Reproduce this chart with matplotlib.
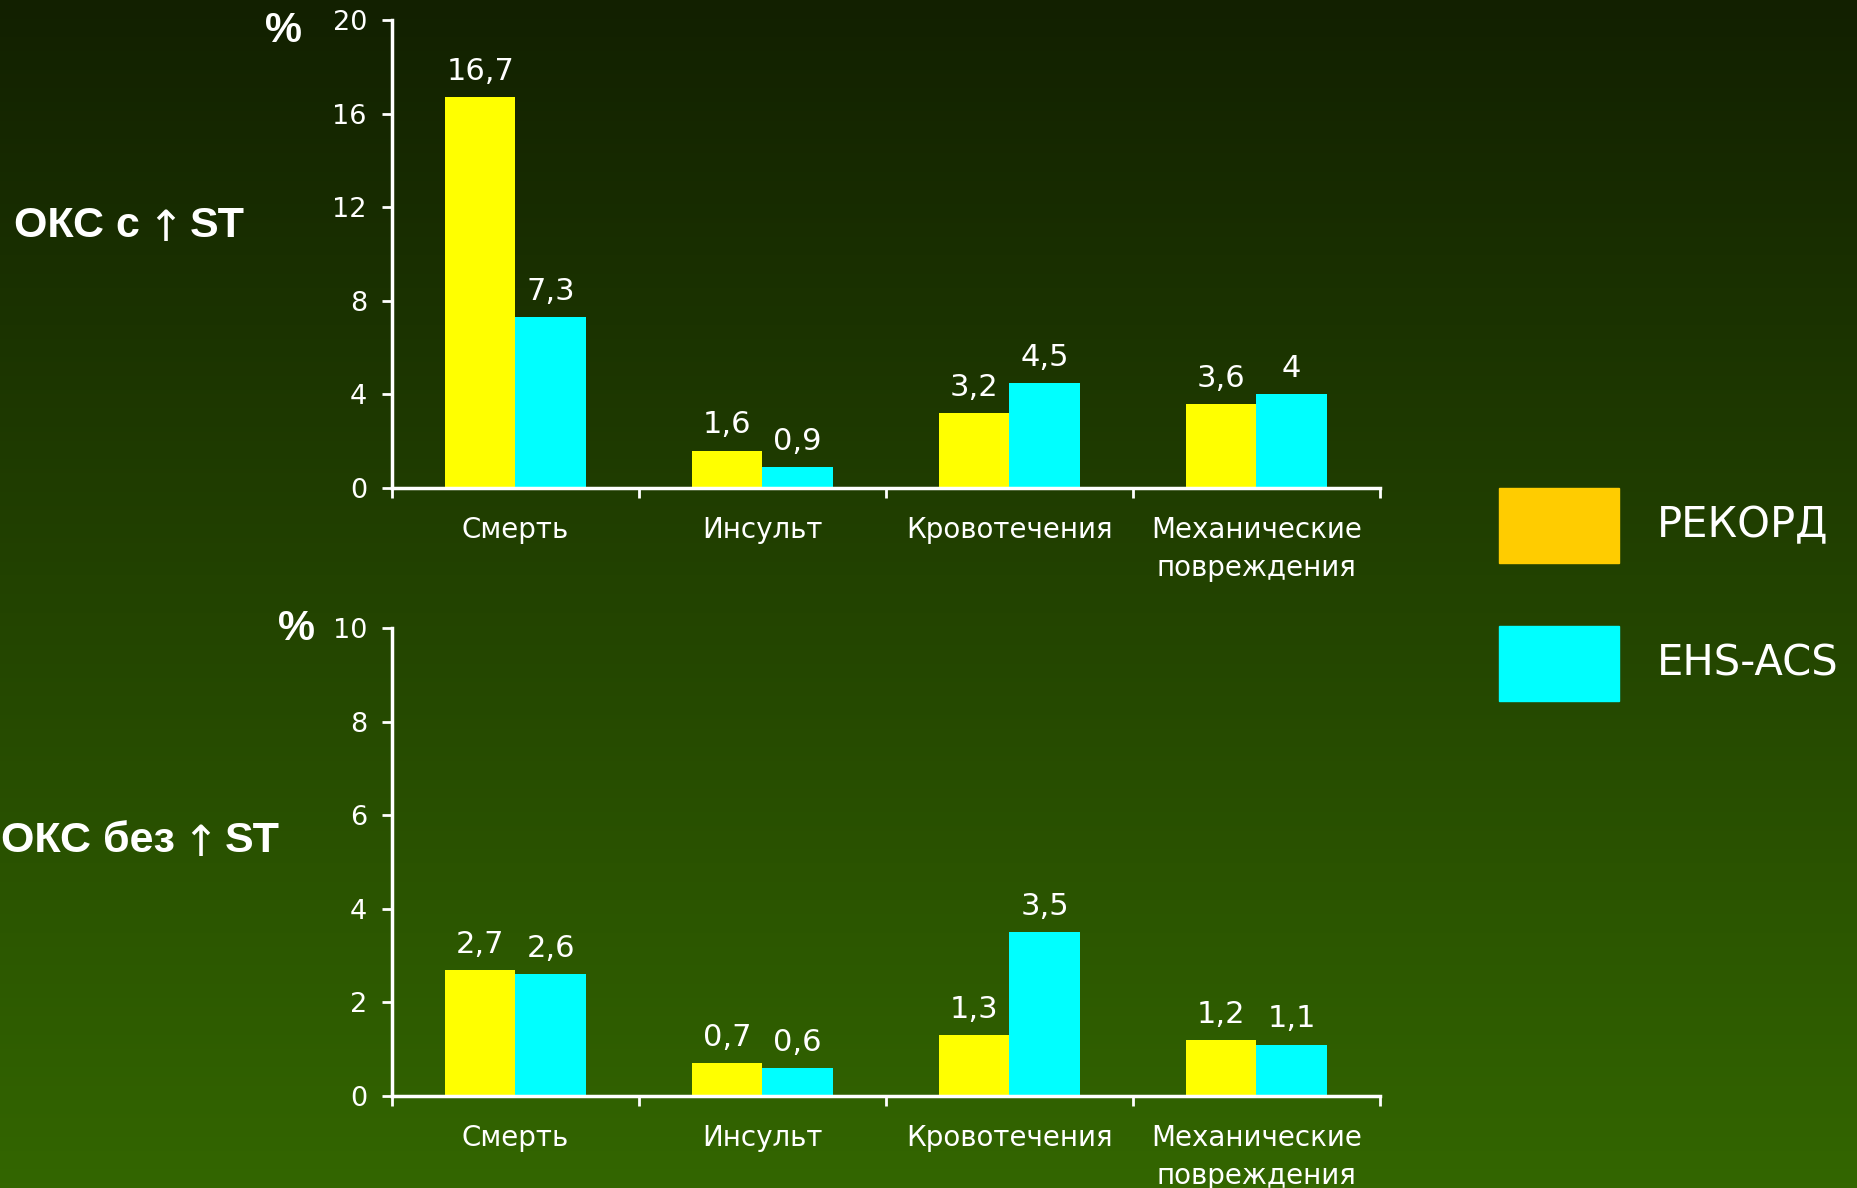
import numpy as np
import matplotlib
matplotlib.use("Agg")
import matplotlib.pyplot as plt
from matplotlib.patches import Rectangle

plt.rcParams['font.family'] = ['DejaVu Sans']

categories = ["Смерть", "Инсульт", "Кровотечения", "Механические\nповреждения"]
series_names = ["РЕКОРД", "EHS-ACS"]

# ОКС с подъёмом ST
stemi_rekord = [16.7, 1.6, 3.2, 3.6]
stemi_ehs = [7.3, 0.9, 4.5, 4.0]

# ОКС без подъёма ST
nstemi_rekord = [2.7, 0.7, 1.3, 1.2]
nstemi_ehs = [2.6, 0.6, 3.5, 1.1]

bar_yellow = "#FFFF00"
bar_cyan = "#00FFFF"
legend_colors = ["#FFCC00", "#00FFFF"]

W, H = 1858, 1188
fig = plt.figure(figsize=(W / 100, H / 100), dpi=100)

# фон: вертикальный градиент от тёмно-зелёного к зелёному
bg = fig.add_axes([0, 0, 1, 1], zorder=-10)
top_c = np.array([0x12, 0x20, 0x00]) / 255
bot_c = np.array([0x33, 0x66, 0x00]) / 255
t = np.linspace(0, 1, 256)[:, None]
grad = top_c[None, None, :] * (1 - t[..., None]) + bot_c[None, None, :] * t[..., None]
grad = np.repeat(grad, 2, axis=1)
bg.imshow(grad, aspect='auto', extent=[0, 1, 0, 1])
bg.set_xlim(0, 1)
bg.set_ylim(0, 1)
bg.set_axis_off()


def fmt(v):
    return ("%g" % v).replace(".", ",")


def draw_panel(rect, a, b, ymax, step):
    ax = fig.add_axes(rect)
    ax.set_facecolor("none")
    x = np.arange(len(categories))
    w = 0.285
    b1 = ax.bar(x - w / 2, a, w, color=bar_yellow, zorder=2)
    b2 = ax.bar(x + w / 2, b, w, color=bar_cyan, zorder=2)
    for bars, vals in ((b1, a), (b2, b)):
        for r, v in zip(bars, vals):
            ax.annotate(fmt(v), (r.get_x() + r.get_width() / 2, r.get_height()),
                        xytext=(0, 8), textcoords="offset points",
                        ha="center", va="bottom", color="white", fontsize=22)
    ax.set_xlim(-0.5, len(categories) - 0.5)
    ax.set_ylim(0, ymax)
    ax.set_yticks(np.arange(0, ymax + 0.1, step))
    ax.set_xticks(x)
    ax.set_xticklabels(categories, color="white", fontsize=20, linespacing=1.45)
    ax.set_xticks(np.arange(-0.5, len(categories)), minor=True)
    ax.tick_params(axis="x", which="major", length=0, pad=20)
    ax.tick_params(axis="x", which="minor", length=7, width=2, color="white", direction="out")
    ax.tick_params(axis="y", length=7, width=2, color="white", labelcolor="white",
                   labelsize=19.5, pad=11)
    for s in ("top", "right"):
        ax.spines[s].set_visible(False)
    for s in ("left", "bottom"):
        ax.spines[s].set_color("white")
        ax.spines[s].set_linewidth(2.5)
    return ax


ax1 = draw_panel([392 / W, 1 - 488 / H, 988 / W, 468 / H], stemi_rekord, stemi_ehs, 20, 4)
ax2 = draw_panel([392 / W, 1 - 1096 / H, 988 / W, 468 / H], nstemi_rekord, nstemi_ehs, 10, 2)


# подписи строк: жирный текст, стрелка обычным начертанием
def row_label(x, y, head, tail):
    lab = ['Liberation Sans', 'DejaVu Sans']
    t1 = bg.text(x / W, 1 - y / H, head, color="white", fontsize=31, family=lab,
                 fontweight="bold", va="center", ha="left")
    t2 = bg.annotate("↑", xy=(1, 0.5), xycoords=t1, xytext=(5, -2),
                     textcoords="offset points", color="white", fontsize=31,
                     family=['DejaVu Sans'], va="center", ha="left")
    bg.annotate(tail, xy=(1, 0.5), xycoords=t2, xytext=(5, 2),
                textcoords="offset points", color="white", fontsize=31,
                family=lab, fontweight="bold", va="center", ha="left")


row_label(14, 226, "ОКС с", "ST")
row_label(1, 841, "ОКС без", "ST")

fig.text(283 / W, 1 - 31 / H, "%", color="white", fontsize=30,
         family=['Liberation Sans'], fontweight="bold", va="center", ha="center")
fig.text(297 / W, 1 - 629 / H, "%", color="white", fontsize=30,
         family=['Liberation Sans'], fontweight="bold", va="center", ha="center")

# легенда
box_y = [488, 626]
for name, col, y in zip(series_names, legend_colors, box_y):
    fig.patches.append(Rectangle((1499 / W, 1 - (y + 75) / H), 120 / W, 75 / H,
                                 transform=fig.transFigure, color=col, figure=fig))
    fig.text(1657 / W, 1 - (y + 37) / H, name, color="white", fontsize=30,
             va="center", ha="left")

fig.savefig("out.png", dpi=100)
